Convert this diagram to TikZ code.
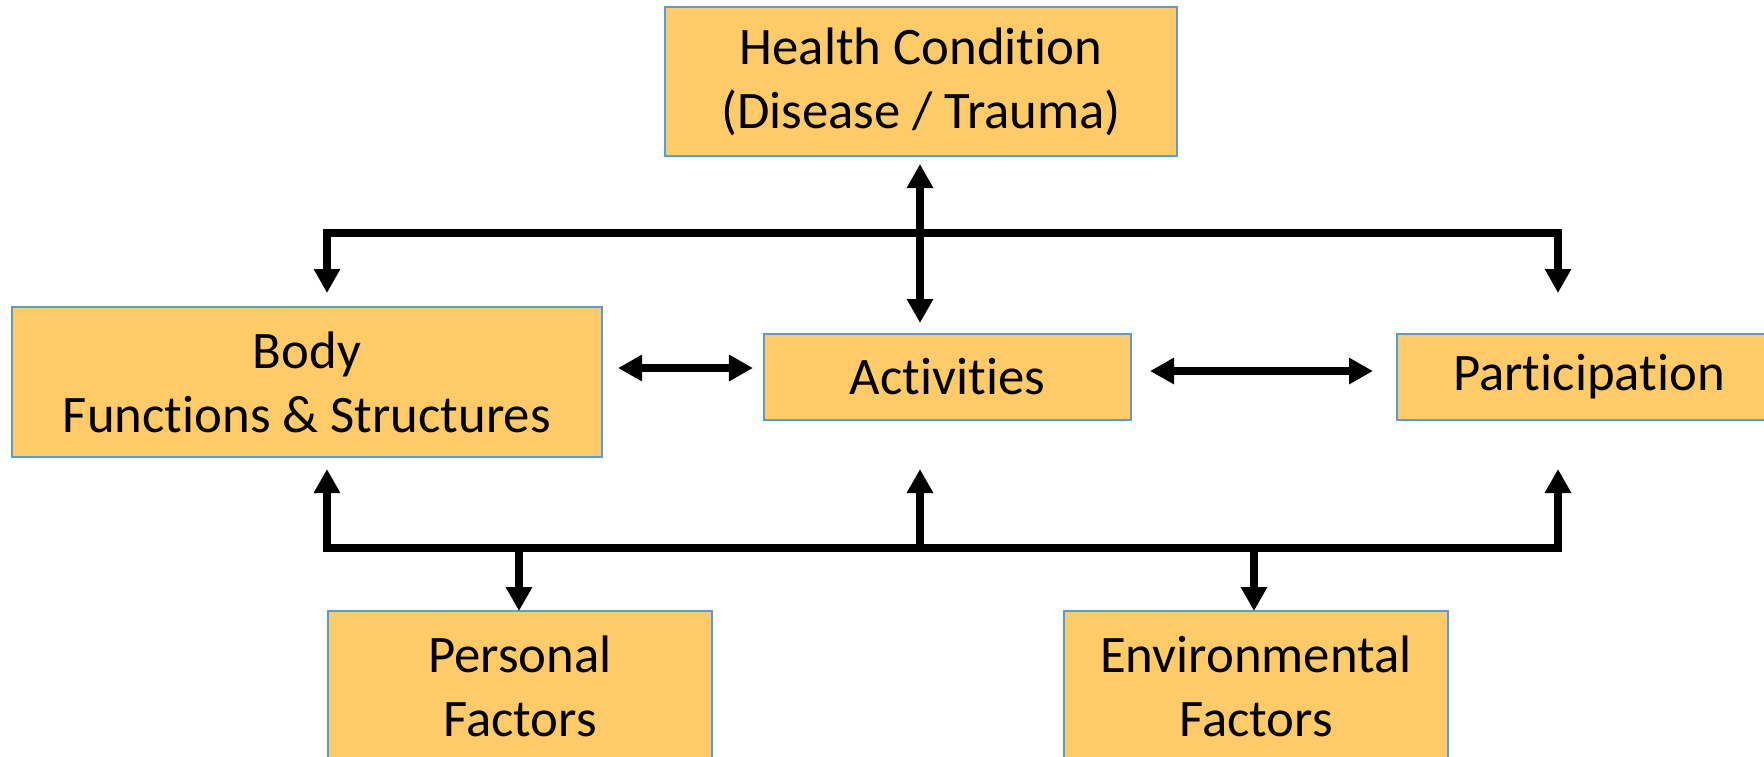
\documentclass[tikz,border=0pt]{standalone}
\usepackage{fontspec}
\setmainfont{Carlito}[Ligatures=NoCommon]
\usetikzlibrary{arrows.meta}
\definecolor{boxfill}{HTML}{FFCB69}
\definecolor{boxline}{HTML}{5B9BD5}
\begin{document}
\begin{tikzpicture}[x=0.01cm,y=-0.01cm,
  box/.style={draw=boxline, line width=0.02cm, fill=boxfill, inner sep=0pt, outer sep=0pt,
    align=center, font=\fontsize{15pt}{18.2pt}\selectfont},
  conn/.style={line width=0.08cm, line join=miter, line cap=butt},
  tip/.style={-{Triangle[length=0.24cm,width=0.25cm]}},
  dtip/.style={{Triangle[length=0.24cm,width=0.25cm]}-{Triangle[length=0.24cm,width=0.25cm]}}]
\useasboundingbox (0,0) rectangle (1764,756);
\clip (0,0) rectangle (1764,756);
% boxes
\node[box, minimum width=5.12cm, minimum height=1.49cm] (health) at (921,81.5) {Health Condition\\(Disease / Trauma)};
\node[box, minimum width=5.90cm, minimum height=1.50cm] (body) at (307,382) {Body\\Functions \& Structures};
\node[box, minimum width=3.67cm, minimum height=0.86cm] (act) at (947.5,377) {Activities};
\node[box, minimum width=3.84cm, minimum height=0.86cm] (part) at (1589,377) {Participation};
\node[box, minimum width=3.84cm, minimum height=1.50cm] (pers) at (520,686) {Personal\\Factors};
\node[box, minimum width=3.84cm, minimum height=1.50cm] (env) at (1256,686) {Environmental\\Factors};
% coordinates
\coordinate (tbL) at (327,233);
\coordinate (tbR) at (1558,233);
\coordinate (bodyTop) at (327,293);
\coordinate (partTop) at (1558,293);
\coordinate (hcTip) at (920,164);
\coordinate (actTop) at (920,323);
\coordinate (bbL) at (327,548);
\coordinate (bbR) at (1558,548);
\coordinate (bbC) at (920,548);
\coordinate (bodyBot) at (327,469);
\coordinate (actBot) at (920,469);
\coordinate (partBot) at (1558,469);
\coordinate (persSplit) at (519,548);
\coordinate (envSplit) at (1254,548);
\coordinate (persTop) at (519,611);
\coordinate (envTop) at (1254,611);
\coordinate (baR) at (618,368);
\coordinate (aaL) at (753,368);
\coordinate (aaR) at (1150,371);
\coordinate (paL) at (1373,371);
% connectors
\draw[conn, dtip] (bodyTop) -- (tbL) -- (tbR) -- (partTop);
\draw[conn, dtip] (hcTip) -- (actTop);
\draw[conn, dtip] (bodyBot) -- (bbL) -- (bbR) -- (partBot);
\draw[conn, tip] (bbC) -- (actBot);
\draw[conn, tip] (persSplit) -- (persTop);
\draw[conn, tip] (envSplit) -- (envTop);
\draw[conn, dtip] (baR) -- (aaL);
\draw[conn, dtip] (aaR) -- (paL);
\end{tikzpicture}
\end{document}
